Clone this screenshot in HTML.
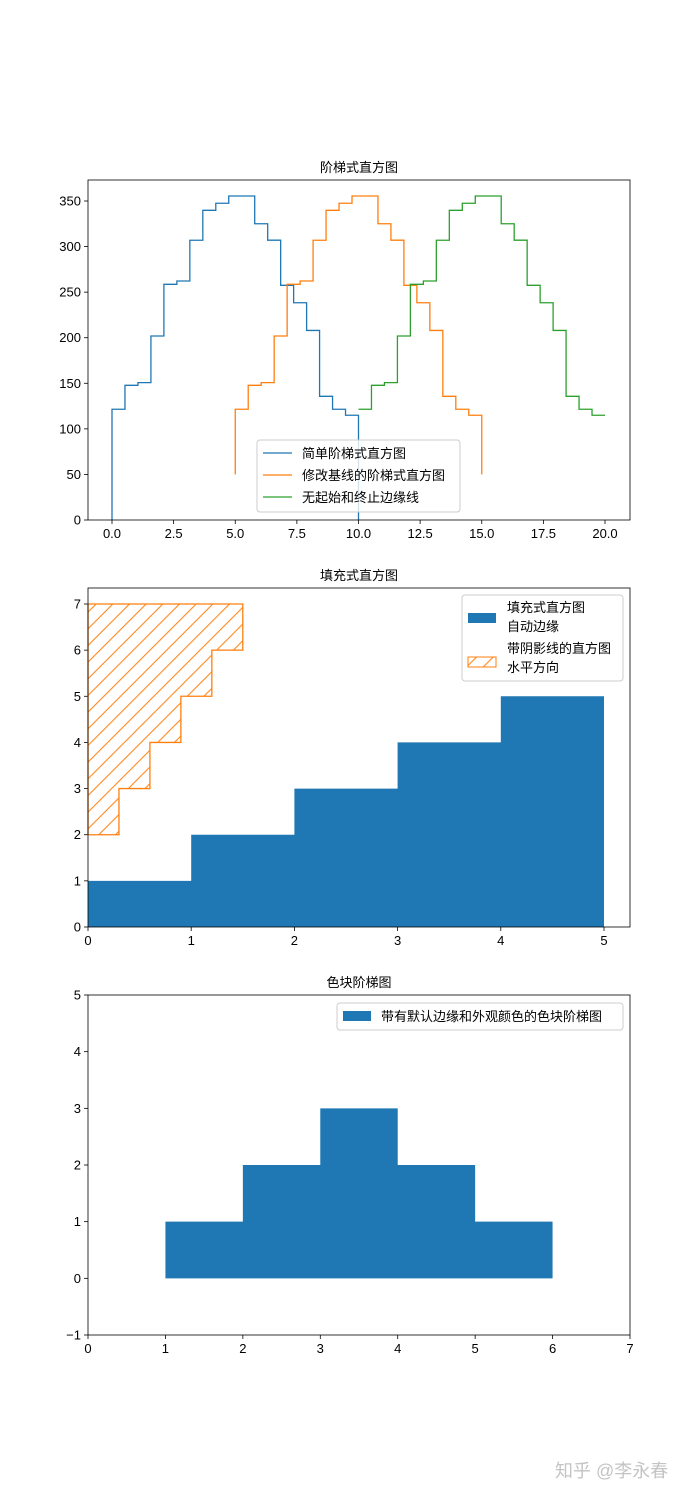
<!DOCTYPE html>
<html><head><meta charset="utf-8">
<style>
body{margin:0;background:#fff;}
svg text{font-family:"Liberation Sans","Noto Sans CJK SC",sans-serif;font-size:13px;fill:#000;}
</style></head>
<body>
<svg id="fig" width="700" height="1500" xmlns="http://www.w3.org/2000/svg">
<defs>
<pattern id="hatch" patternUnits="userSpaceOnUse" width="16.67" height="16.67">
<path d="M-4.17,4.17 L4.17,-4.17 M0,16.67 L16.67,0 M12.5,20.84 L20.84,12.5" stroke="#ff7f0e" stroke-width="1"/>
</pattern>
</defs>
</svg>
<script>
// ---- data ----
const histValues = [121.5,147.8,150.7,201.9,258.6,262.2,306.9,339.8,347.5,355.5,355.5,325,307,257.5,238.4,208,135.7,121.5,114.9];
const histEdgeStart = 0, histEdgeEnd = 10;
const shift2 = 5, baseline2 = 50, shift3 = 10;
const ax1XTicks = [0,2.5,5,7.5,10,12.5,15,17.5,20];
const ax1XLabels = ['0.0','2.5','5.0','7.5','10.0','12.5','15.0','17.5','20.0'];
const ax1YTicks = [0,50,100,150,200,250,300,350];
const filledValues = [1,2,3,4,5];
const filledEdges = [0,1,2,3,4,5];
const hatchValues = [0.3,0.6,0.9,1.2,1.5];
const hatchEdges = [2,3,4,5,6,7];
const ax2XTicks = [0,1,2,3,4,5];
const ax2YTicks = [0,1,2,3,4,5,6,7];
const patchValues = [1,2,3,2,1];
const patchEdges = [1,2,3,4,5,6];
const ax3XTicks = [0,1,2,3,4,5,6,7];
const ax3YTicks = [-1,0,1,2,3,4,5];
const ax3YLabels = ['\u22121','0','1','2','3','4','5'];

const NS='http://www.w3.org/2000/svg';
const svg=document.getElementById('fig');
function el(tag,attrs,parent,text){const e=document.createElementNS(NS,tag);for(const k in attrs)e.setAttribute(k,attrs[k]);if(text!==undefined)e.textContent=text;(parent||svg).appendChild(e);return e;}
function scale(d0,d1,r0,r1){return v=>r0+(v-d0)/(d1-d0)*(r1-r0);}

function axes(name,L,T,R,B,xs,ys,xt,xl,yt,yl,title){
  const g=el('g',{},svg);
  
  
  xt.forEach((v,i)=>{const x=xs(v);el('line',{x1:x,x2:x,y1:B,y2:B+4,stroke:'#000','stroke-width':0.8},g);
    const t=el('text',{x:x,y:B+18,'text-anchor':'middle'},g,xl?xl[i]:String(v));
    
    });
  yt.forEach((v,i)=>{const y=ys(v);el('line',{x1:L-4,x2:L,y1:y,y2:y,stroke:'#000','stroke-width':0.8},g);
    const t=el('text',{x:L-7,y:y+4.5,'text-anchor':'end'},g,yl?yl[i]:String(v));
    
    });
  const tt=el('text',{x:(L+R)/2,y:T-8,'text-anchor':'middle','font-size':'14px'},g,title);
  
  
  return g;
}
function frame(L,T,R,B){const r=el('rect',{x:L,y:T,width:R-L,height:B-T,fill:'none',stroke:'#000','stroke-width':0.8});
  
  }

// ---- Axes 1 ----
{
const L=88,T=180,R=630,B=520;
const xs=scale(0,20,112,605), ys=scale(0,350,520,201);
axes('stairs-axes',L,T,R,B,xs,ys,ax1XTicks,ax1XLabels,ax1YTicks,null,'阶梯式直方图');
const n=histValues.length, w=(histEdgeEnd-histEdgeStart)/n;
function stairPath(shift,base){
  let d='';
  if(base!==null){d+='M'+xs(histEdgeStart+shift)+','+ys(base);}
  histValues.forEach((v,i)=>{const x0=xs(histEdgeStart+shift+i*w),x1=xs(histEdgeStart+shift+(i+1)*w);
    d+=(d===''?'M':'L')+x0+','+ys(v)+'L'+x1+','+ys(v);});
  if(base!==null)d+='L'+xs(histEdgeEnd+shift)+','+ys(base);
  return d;
}
const p1=el('path',{d:stairPath(0,0),fill:'none',stroke:'#1f77b4','stroke-width':1.3});


const p2=el('path',{d:stairPath(shift2,baseline2),fill:'none',stroke:'#ff7f0e','stroke-width':1.3});


const p3=el('path',{d:stairPath(shift3,null),fill:'none',stroke:'#2ca02c','stroke-width':1.3});


frame(L,T,R,B);
const lg=el('g',{});


el('rect',{x:257,y:440,width:203,height:72,rx:3,fill:'#fff','fill-opacity':0.8,stroke:'#ccc'},lg);
[['#1f77b4','简单阶梯式直方图'],['#ff7f0e','修改基线的阶梯式直方图'],['#2ca02c','无起始和终止边缘线']].forEach((e,i)=>{
  const y=453+i*22;
  el('line',{x1:263,x2:292,y1:y,y2:y,stroke:e[0],'stroke-width':1.3},lg);
  const t=el('text',{x:302,y:y+5},lg,e[1]);
  
  
});
}

// ---- Axes 2 ----
{
const L=88,T=588,R=630,B=927;
const xs=scale(0,5,88,604), ys=scale(0,7,927,604);
axes('filled-axes',L,T,R,B,xs,ys,ax2XTicks,null,ax2YTicks,null,'填充式直方图');
let d='M'+xs(filledEdges[0])+','+ys(0);
filledValues.forEach((v,i)=>{d+='L'+xs(filledEdges[i])+','+ys(v)+'L'+xs(filledEdges[i+1])+','+ys(v);});
d+='L'+xs(filledEdges[filledEdges.length-1])+','+ys(0)+'Z';
const f=el('path',{d:d,fill:'#1f77b4',stroke:'none'});


let h='M'+xs(0)+','+ys(hatchEdges[0]);
hatchValues.forEach((v,i)=>{h+='L'+xs(v)+','+ys(hatchEdges[i])+'L'+xs(v)+','+ys(hatchEdges[i+1]);});
h+='L'+xs(0)+','+ys(hatchEdges[hatchEdges.length-1])+'Z';
const hp=el('path',{d:h,fill:'url(#hatch)',stroke:'#ff7f0e','stroke-width':1.3});


frame(L,T,R,B);
const lg=el('g',{});


el('rect',{x:462,y:595,width:161,height:86,rx:3,fill:'#fff','fill-opacity':0.8,stroke:'#ccc'},lg);
el('rect',{x:468,y:613,width:28,height:10,fill:'#1f77b4'},lg);
let t=el('text',{x:507,y:612},lg,'填充式直方图');


el('text',{x:507,y:631},lg,'自动边缘');
el('rect',{x:468,y:657,width:28,height:10,fill:'url(#hatch)',stroke:'#ff7f0e','stroke-width':1},lg);
t=el('text',{x:507,y:653},lg,'带阴影线的直方图');


el('text',{x:507,y:672},lg,'水平方向');
}

// ---- Axes 3 ----
{
const L=88,T=995,R=630,B=1335;
const xs=scale(0,7,88,630), ys=scale(-1,5,1335,995);
axes('patch-axes',L,T,R,B,xs,ys,ax3XTicks,null,ax3YTicks,ax3YLabels,'色块阶梯图');
let d='M'+xs(patchEdges[0])+','+ys(0);
patchValues.forEach((v,i)=>{d+='L'+xs(patchEdges[i])+','+ys(v)+'L'+xs(patchEdges[i+1])+','+ys(v);});
d+='L'+xs(patchEdges[patchEdges.length-1])+','+ys(0)+'Z';
const f=el('path',{d:d,fill:'#1f77b4',stroke:'none'});


frame(L,T,R,B);
const lg=el('g',{});


el('rect',{x:337,y:1003,width:286,height:27,rx:3,fill:'#fff','fill-opacity':0.8,stroke:'#ccc'},lg);
el('rect',{x:343,y:1011,width:28,height:10,fill:'#1f77b4'},lg);
const t=el('text',{x:381,y:1021},lg,'带有默认边缘和外观颜色的色块阶梯图');


}

const wm=el('text',{x:555,y:1477,'font-size':'18px',fill:'#c8c8c8',style:'fill:#c4c4c4;font-size:18px'},svg,'知乎 @李永春');


</script>
</body></html>
